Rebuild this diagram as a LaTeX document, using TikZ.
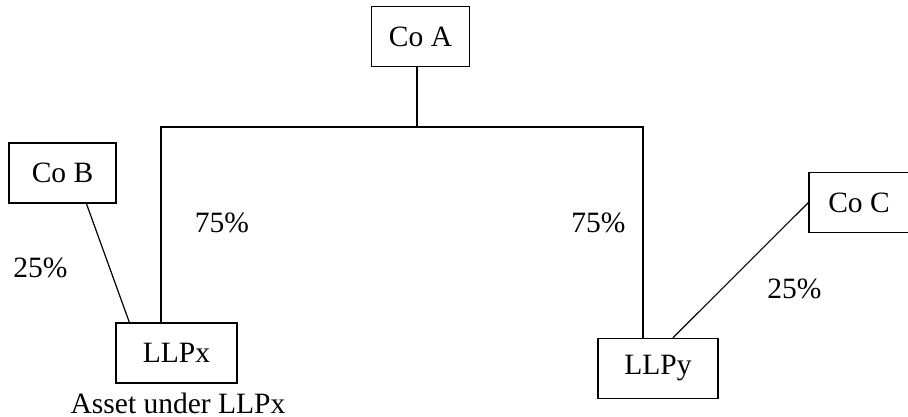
\documentclass[tikz,border=0pt]{standalone}
\usepackage{fontspec}
\setmainfont{Liberation Serif}
\usetikzlibrary{arrows,calc,positioning}

\begin{document}
\begin{tikzpicture}[x=1pt, y=-1pt, line width=1.2pt,
  company/.style={draw, minimum width=#1, minimum height=60pt, inner sep=0pt,
    font=\fontsize{29.5}{34}\selectfont},
  share/.style={anchor=base, inner sep=0pt, font=\fontsize{29.5}{34}\selectfont}]

  \useasboundingbox (0,0) rectangle (908,417);

  \node [company=98pt] (coa) at (420.5,36.5) {Co A};
  \node [company=107pt] (cob) at (62.5,173) {Co B};
  \node [company=100pt] (coc) at (859,202.5) {Co C};
  \node [company=121pt] (llpx) at (176.5,353) {LLPx};
  \node [company=120pt] (llpy) at (658,368.5) {LLPy};

  \coordinate (barmid) at (417,127);
  \coordinate (barleft) at (161,127);
  \coordinate (barright) at (643,127);

  \path [-] (barmid |- coa.south) edge (barmid) ;

  \draw (barleft |- llpx.north) -- (barleft) -- (barright) -- (barright |- llpy.north) ;

  \path [-] (cob.-52) edge (llpx.147) ;

  \path [-] (coc.west) edge (llpy.64) ;

  \node [share] (pctax) at (222,232) {75\%};
  \node [share] (pctay) at (598.5,232) {75\%};
  \node [share] (pctbx) at (40.5,277) {25\%};
  \node [share] (pctcy) at (794.5,298) {25\%};

  \node [share] (asset) at (178,413) {Asset under LLPx};

\end{tikzpicture}
\end{document}
